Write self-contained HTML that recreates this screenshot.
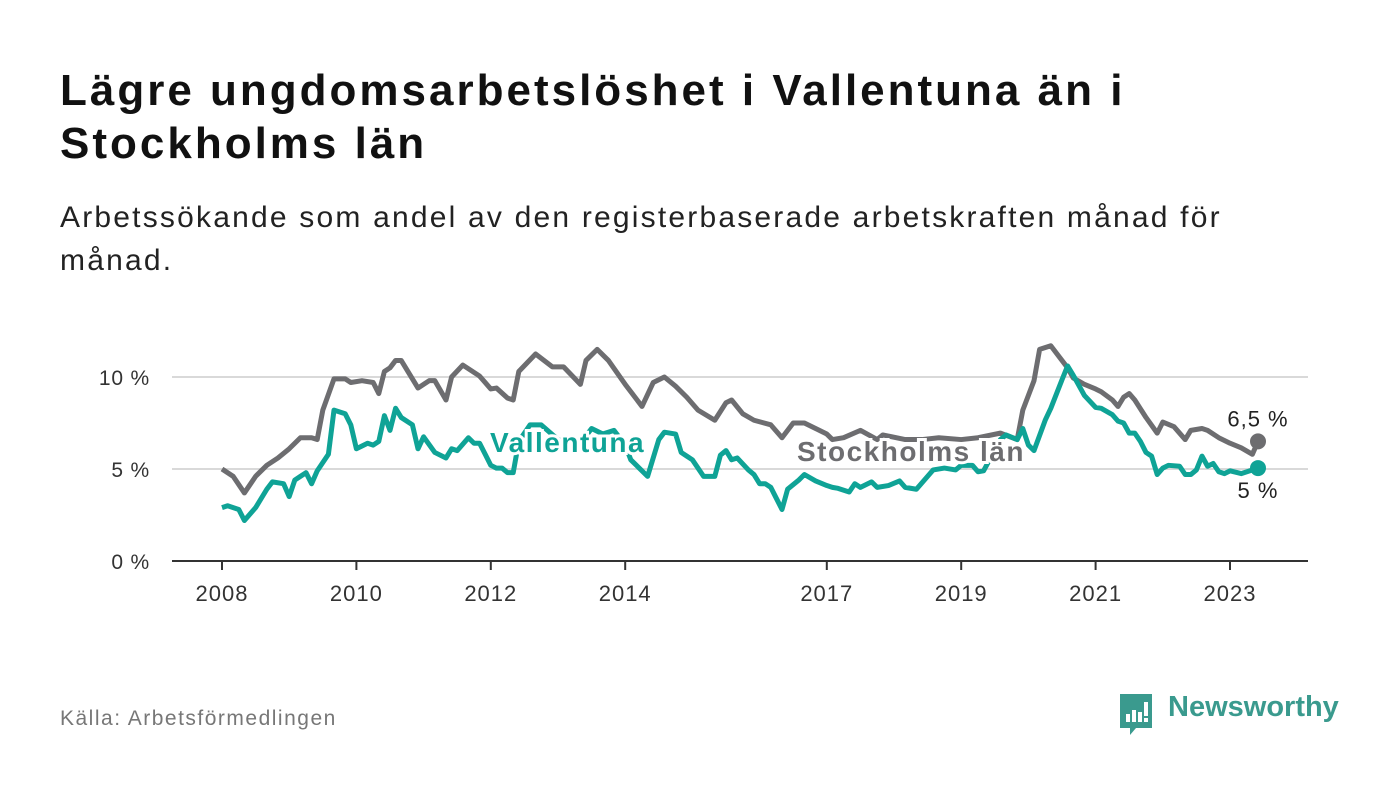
<!DOCTYPE html>
<html><head><meta charset="utf-8">
<style>
body{margin:0;width:1400px;height:794px;background:#fff;font-family:"Liberation Sans",sans-serif;overflow:hidden;position:relative}
.t{position:absolute;left:60px;color:#111;white-space:nowrap}
</style></head><body>
<div class="t" style="top:64px;font-size:44px;font-weight:bold;line-height:53px;letter-spacing:3px">Lägre ungdomsarbetslöshet i Vallentuna än i<br>Stockholms län</div>
<div class="t" style="top:196px;font-size:30px;line-height:43px;letter-spacing:2.2px;color:#222">Arbetssökande som andel av den registerbaserade arbetskraften månad för<br>månad.</div>
<svg id="c" width="1400" height="794" style="position:absolute;left:0;top:0"></svg>
<div style="position:absolute;left:60px;top:707px;font-size:21px;letter-spacing:1.5px;color:#777">Källa: Arbetsförmedlingen</div>
<div style="position:absolute;left:1118px;top:690px;height:46px;">
<svg width="36" height="46" style="position:absolute;left:0;top:2px"><path d="M2 2h32v34h-16l-6 7v-7h-10z" fill="#3a9a8e"/><rect x="8" y="22" width="4" height="8" fill="#fff"/><rect x="14" y="18" width="4" height="12" fill="#fff"/><rect x="20" y="20" width="4" height="10" fill="#fff"/><rect x="26" y="10" width="4" height="14" fill="#fff"/><rect x="26" y="26" width="4" height="4" fill="#fff"/></svg>
<span style="position:absolute;left:50px;top:1px;font-size:29px;font-weight:bold;color:#3a9a8e;white-space:nowrap">Newsworthy</span></div>
<script>
const xTicks=[2008,2010,2012,2014,2017,2019,2021,2023];
const yTicks=[0,5,10];
const yTickLabels=["0 %","5 %","10 %"];
const stockMonths=[0,2,4,6,8,10,12,14,16,17,18,20,22,23,25,27,28,29,30,31,32,35,37,38,40,41,43,46,48,49,51,52,53,56,59,61,64,65,67,69,72,75,77,79,81,83,85,88,90,91,93,95,98,100,101,102,104,106,108,109,111,114,117,118,122,125,128,132,135,139,142,143,145,146,148,149,151,152,154,156,157,159,160,161,162,163,165,167,168,170,172,173,175,176,178,180,182,184,185];
const stockValues=[5.0,4.6,3.7,4.6,5.2,5.6,6.1,6.7,6.7,6.6,8.2,9.9,9.9,9.7,9.8,9.7,9.1,10.3,10.5,10.9,10.9,9.4,9.8,9.8,8.75,10.0,10.65,10.05,9.35,9.4,8.85,8.75,10.3,11.25,10.55,10.55,9.6,10.9,11.5,10.9,9.6,8.4,9.7,10.0,9.5,8.9,8.2,7.65,8.6,8.75,8.0,7.65,7.4,6.7,7.1,7.5,7.5,7.2,6.9,6.6,6.7,7.1,6.6,6.85,6.6,6.6,6.7,6.6,6.7,6.95,6.6,8.2,9.8,11.5,11.7,11.3,10.5,9.95,9.6,9.35,9.2,8.75,8.4,8.9,9.1,8.75,7.8,6.95,7.55,7.3,6.6,7.1,7.2,7.1,6.7,6.4,6.15,5.8,6.5];
const valMonths=[0,1,3,4,6,8,9,11,12,13,14,15,16,17,19,20,22,23,24,26,27,28,29,30,31,32,34,35,36,38,40,41,42,44,45,46,47,48,49,50,51,52,53,55,57,60,62,64,66,68,70,72,73,76,78,79,81,82,83,84,86,87,88,89,90,91,92,94,95,96,97,98,99,100,101,103,104,106,108,109,110,112,113,114,116,117,119,121,122,124,127,129,131,132,134,135,136,139,140,142,143,144,145,147,148,150,151,152,154,156,157,159,160,161,162,163,164,165,166,167,168,169,171,172,173,174,175,176,177,178,179,180,182,185];
const valValues=[2.9,3.0,2.8,2.2,2.9,3.9,4.3,4.2,3.5,4.4,4.6,4.8,4.2,4.9,5.8,8.2,8.0,7.4,6.1,6.4,6.3,6.5,7.9,7.1,8.3,7.8,7.4,6.1,6.75,5.9,5.6,6.1,6.0,6.7,6.4,6.4,5.8,5.2,5.05,5.05,4.8,4.8,6.5,7.4,7.4,6.6,6.5,6.4,7.2,6.9,7.1,6.3,5.5,4.6,6.6,7.0,6.9,5.9,5.7,5.5,4.6,4.6,4.6,5.75,6.0,5.5,5.6,4.95,4.7,4.2,4.2,4.0,3.4,2.8,3.9,4.4,4.7,4.35,4.1,4.0,3.95,3.75,4.2,4.0,4.3,4.0,4.1,4.35,4.0,3.9,4.95,5.05,4.95,5.2,5.2,4.85,4.9,6.6,6.85,6.6,7.2,6.3,6.0,7.65,8.3,9.85,10.6,10.1,9.0,8.35,8.3,7.95,7.6,7.5,6.95,6.95,6.5,5.9,5.7,4.7,5.05,5.2,5.15,4.7,4.7,4.95,5.7,5.15,5.3,4.85,4.75,4.9,4.75,5.05];
const NS="http://www.w3.org/2000/svg",svg=document.getElementById('c');
const xM=m=>222+m*67.2/12, xY=y=>222+(y-2008)*67.2, yV=v=>561-v*18.4;
function mk(t,a,txt){const e=document.createElementNS(NS,t);for(const k in a)e.setAttribute(k,a[k]);if(txt!=null)e.textContent=txt;svg.appendChild(e);return e;}
yTicks.forEach((v,i)=>{
 if(v>0){const g=mk('line',{x1:172,x2:1308,y1:yV(v),y2:yV(v),stroke:'#d9d9d9','stroke-width':2});
 
 }
 const t=mk('text',{x:150,y:yV(v)+8,'text-anchor':'end','font-size':21,'letter-spacing':0.8,fill:'#333','font-family':'Liberation Sans'},yTickLabels[i]);
 
 
});
const ax=mk('line',{x1:172,x2:1308,y1:561,y2:561,stroke:'#333','stroke-width':2});


xTicks.forEach(y=>{
 const l=mk('line',{x1:xY(y),x2:xY(y),y1:561,y2:570,stroke:'#333','stroke-width':2});
 
 
 const t=mk('text',{x:xY(y),y:601,'text-anchor':'middle','font-size':22,'letter-spacing':1,fill:'#333','font-family':'Liberation Sans'},String(y));
 
 
});
function line(ms,vs,col,name){
 const p=mk('polyline',{points:ms.map((m,i)=>xM(m)+','+yV(vs[i])).join(' '),fill:'none',stroke:col,'stroke-width':5,'stroke-linejoin':'round'});
 
 
 const n=ms.length-1;
 const d=mk('circle',{cx:xM(ms[n]),cy:yV(vs[n]),r:8,fill:col});
 
 
}
line(stockMonths,stockValues,'#6d6d70','stockholm-line');
line(valMonths,valValues,'#0fa396','vallentuna-line');
function lab(x,y,txt,col,name,anchor,bold){
 const a={x:x,y:y,'font-size':bold?28:22,'letter-spacing':bold?1.5:1,'font-weight':bold?'bold':'normal',fill:col,'font-family':'Liberation Sans','text-anchor':anchor||'start',stroke:'#fff','stroke-width':bold?6:0,'paint-order':'stroke'};
 const t=mk('text',a,txt);
 
 
}
lab(490,452,'Vallentuna','#0fa396','vallentuna-label','start',true);
lab(797,461,'Stockholms län','#6d6d70','stockholm-label','start',true);
const n1=stockMonths.length-1,n2=valMonths.length-1;
lab(xM(stockMonths[n1]),yV(stockValues[n1])-15,stockValues[n1].toFixed(1).replace('.',',')+' %','#222','stockholm-end-value','middle',false);
lab(xM(valMonths[n2]),yV(valValues[n2])+30,Math.round(valValues[n2])+' %','#222','vallentuna-end-value','middle',false);
</script>
</body></html>
